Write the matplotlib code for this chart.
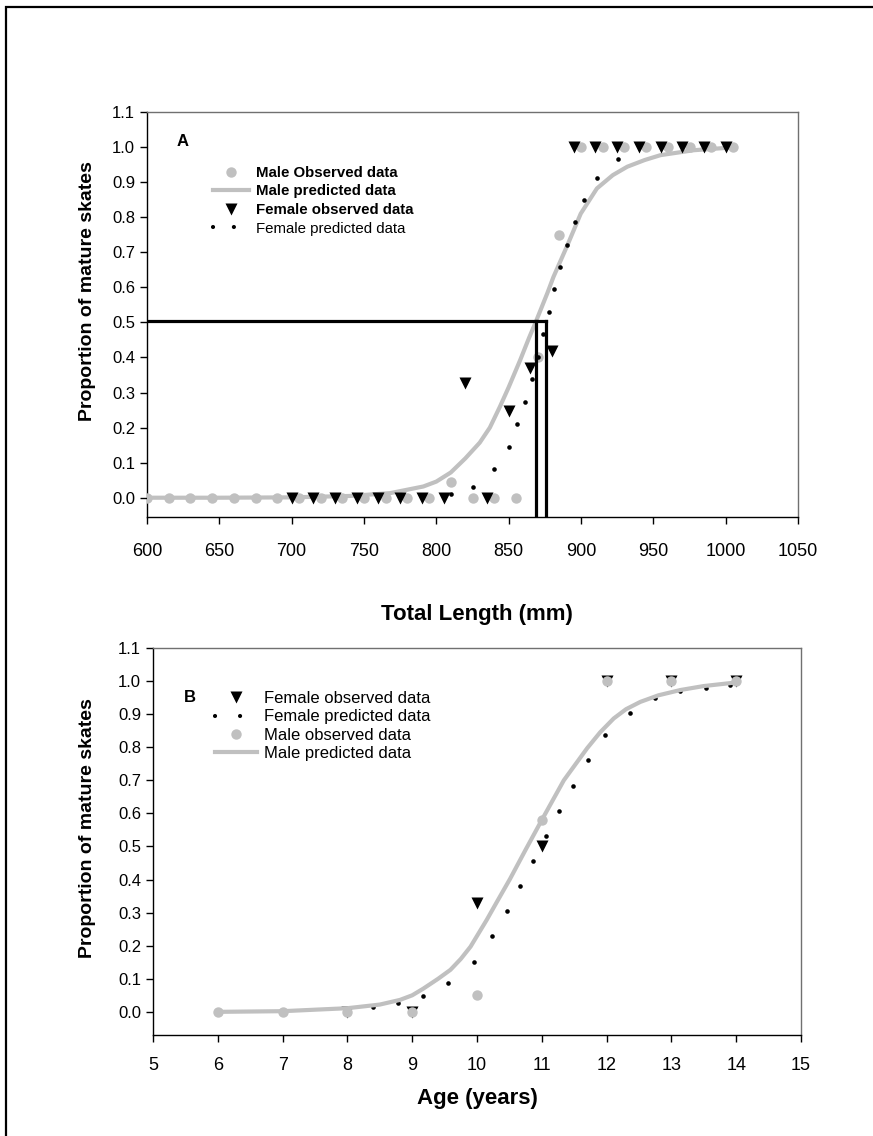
import numpy as np
import matplotlib
matplotlib.use('Agg')
import matplotlib.pyplot as plt
from matplotlib.lines import Line2D
from matplotlib.patches import Rectangle

plt.rcParams['font.family'] = ['Liberation Sans', 'DejaVu Sans']

GRAY = '#c0c0c0'

# --------------------- PANEL A: total length (mm)
a_male_obs_x = [600, 615, 630, 645, 660, 675, 690, 705, 720, 735, 750, 765, 780, 795,
                810, 825, 840, 855, 870, 885, 900, 915, 930, 945, 960, 975, 990, 1005]
a_male_obs_y = [0, 0, 0, 0, 0, 0, 0, 0, 0, 0, 0, 0, 0, 0,
                0.045, 0, 0, 0, 0.40, 0.75, 1, 1, 1, 1, 1, 1, 1, 1]

a_male_pred_x = [600, 650, 700, 740, 768, 791, 800, 810, 820, 830, 837, 844, 850, 858,
                 864, 868.6, 876.7, 881, 890.6, 899.8, 911, 922, 932, 944, 955, 978, 1005]
a_male_pred_y = [0, 0, 0.001, 0.005, 0.013, 0.032, 0.046, 0.072, 0.112, 0.157, 0.2, 0.26,
                 0.315, 0.393, 0.455, 0.50, 0.583, 0.63, 0.72, 0.81, 0.882, 0.92, 0.944,
                 0.963, 0.977, 0.991, 0.999]

a_fem_obs_x = [700, 715, 730, 745, 760, 775, 790, 805, 820, 835, 850, 865, 880,
               895, 910, 925, 940, 955, 970, 985, 1000]
a_fem_obs_y = [0, 0, 0, 0, 0, 0, 0, 0, 0.326, 0, 0.246, 0.371, 0.417,
               1, 1, 1, 1, 1, 1, 1, 1]

a_fem_pred_x = [810, 825, 840, 850, 856, 861, 866, 870, 874, 877.6, 881.5, 885.7,
                890.3, 895.6, 902.3, 910.9, 925.9]
a_fem_pred_y = [0.011, 0.031, 0.083, 0.146, 0.21, 0.273, 0.338, 0.40, 0.466, 0.529,
                0.594, 0.657, 0.722, 0.785, 0.849, 0.913, 0.966]

a_l50_level = 0.505
a_l50_male = 868.8
a_l50_female = 875.8

# --------------------- PANEL B: age (years)
b_fem_obs_x = [8, 9, 10, 11, 12, 13, 14]
b_fem_obs_y = [0, 0, 0.33, 0.50, 1, 1, 1]

b_fem_pred_x = [8.40, 8.78, 9.17, 9.56, 9.95, 10.23, 10.46, 10.67, 10.87, 11.07, 11.27,
                11.48, 11.71, 11.98, 12.36, 12.75, 13.13, 13.53, 13.91]
b_fem_pred_y = [0.016, 0.026, 0.048, 0.087, 0.152, 0.229, 0.304, 0.381, 0.456, 0.533,
                0.608, 0.684, 0.760, 0.836, 0.905, 0.948, 0.970, 0.980, 0.988]

b_male_obs_x = [6, 7, 8, 9, 10, 11, 12, 13, 14]
b_male_obs_y = [0, 0, 0, 0, 0.05, 0.58, 1, 1, 1]

b_male_pred_x = [6, 7, 8, 8.5, 8.81, 9.0, 9.17, 9.4, 9.59, 9.75, 9.9, 10.15, 10.3, 10.51,
                 10.75, 11.0, 11.34, 11.7, 11.9, 12.11, 12.3, 12.52, 12.8, 13.14, 13.5,
                 13.96, 14]
b_male_pred_y = [0, 0.002, 0.011, 0.022, 0.036, 0.05, 0.07, 0.10, 0.127, 0.16, 0.197,
                 0.278, 0.33, 0.402, 0.49, 0.58, 0.70, 0.797, 0.845, 0.887, 0.915, 0.937,
                 0.957, 0.973, 0.985, 0.995, 0.996]

W, H = 873, 1136
fig = plt.figure(figsize=(W / 100, H / 100), dpi=100)

# frame round the whole figure
fig.add_artist(Rectangle((6 / W, -0.01), 1.0, 1 - 7 / H + 0.01, transform=fig.transFigure,
                         fill=False, ec='black', lw=1.6))


def style_axes(ax, xpad):
    for s in ['left', 'bottom']:
        ax.spines[s].set_color('black')
        ax.spines[s].set_linewidth(1.0)
    for s in ['top', 'right']:
        ax.spines[s].set_color('#707070')
        ax.spines[s].set_linewidth(1.0)
    ax.tick_params(direction='out', length=5, width=1, top=False, right=False)
    ax.tick_params(axis='x', labelsize=13, pad=xpad)
    ax.tick_params(axis='y', labelsize=12)


def fem_pred_handle(gap):
    return Line2D([], [], color='black', lw=3, ls=(0, (0.01, gap)), dash_capstyle='round')


# --------------------- PANEL A
axA = fig.add_axes([147 / W, 1 - 517 / H, 651 / W, 405 / H])
axA.plot(a_male_pred_x, a_male_pred_y, color=GRAY, lw=3, zorder=2)
axA.plot(a_male_obs_x, a_male_obs_y, 'o', color=GRAY, ms=7.5, mec='none', zorder=3)
axA.plot(a_fem_obs_x, a_fem_obs_y, 'v', color='black', ms=8, mec='none', zorder=4)
axA.plot(a_fem_pred_x, a_fem_pred_y, 'o', color='black', ms=3.3, mec='none', zorder=5)
axA.plot([600, a_l50_female], [a_l50_level, a_l50_level], color='black', lw=2.3, zorder=6)
axA.plot([a_l50_male, a_l50_male], [-0.06, a_l50_level], color='black', lw=2.3, zorder=6)
axA.plot([a_l50_female, a_l50_female], [-0.06, a_l50_level], color='black', lw=2.3, zorder=6)

axA.set_xlim(600, 1050)
axA.set_ylim(-0.055, 1.1)
axA.set_xticks(np.arange(600, 1051, 50))
axA.set_yticks(np.arange(0, 1.11, 0.1))
axA.yaxis.set_major_formatter(matplotlib.ticker.FormatStrFormatter('%.1f'))
style_axes(axA, 14)
axA.set_xlabel('Total Length (mm)', fontsize=16, fontweight='bold')
axA.xaxis.set_label_coords(0.507, -0.215)
axA.set_ylabel('Proportion of mature skates', fontsize=14, fontweight='bold')
axA.yaxis.set_label_coords(-0.078, 0.558)
axA.text(0.055, 0.927, 'A', transform=axA.transAxes, fontsize=12, fontweight='bold',
         ha='center', va='center')

handlesA = [Line2D([], [], marker='o', color=GRAY, ls='none', ms=7.5, mec='none'),
            Line2D([], [], color=GRAY, lw=3),
            Line2D([], [], marker='v', color='black', ls='none', ms=8, mec='none'),
            fem_pred_handle(5)]
labelsA = ['Male Observed data', 'Male predicted data', 'Female observed data',
           'Female predicted data']
legA = axA.legend(handlesA, labelsA, loc='upper left', frameon=False, fontsize=10.8,
                  bbox_to_anchor=(213 / W, 1 - 166 / H), bbox_transform=fig.transFigure,
                  borderpad=0, borderaxespad=0, handlelength=2.4, handletextpad=0.5,
                  labelspacing=0.3)
for t in legA.get_texts()[:3]:
    t.set_fontweight('bold')

# --------------------- PANEL B
axB = fig.add_axes([153 / W, 1 - 1035 / H, 648 / W, 387 / H])
axB.plot(b_fem_obs_x, b_fem_obs_y, 'v', color='black', ms=8, mec='none', zorder=2)
axB.plot(b_fem_pred_x, b_fem_pred_y, 'o', color='black', ms=3.3, mec='none', zorder=3)
axB.plot(b_male_obs_x, b_male_obs_y, 'o', color=GRAY, ms=7.5, mec='none', zorder=4)
axB.plot(b_male_pred_x, b_male_pred_y, color=GRAY, lw=3, zorder=5)

axB.set_xlim(5, 15)
axB.set_ylim(-0.07, 1.1)
axB.set_xticks(np.arange(5, 16, 1))
axB.set_yticks(np.arange(0, 1.11, 0.1))
axB.yaxis.set_major_formatter(matplotlib.ticker.FormatStrFormatter('%.1f'))
style_axes(axB, 11)
axB.set_xlabel('Age (years)', fontsize=16, fontweight='bold')
axB.xaxis.set_label_coords(0.50, -0.137)
axB.set_ylabel('Proportion of mature skates', fontsize=14, fontweight='bold')
axB.yaxis.set_label_coords(-0.088, 0.535)
axB.text(0.057, 0.873, 'B', transform=axB.transAxes, fontsize=12, fontweight='bold',
         ha='center', va='center')

handlesB = [Line2D([], [], marker='v', color='black', ls='none', ms=8, mec='none'),
            fem_pred_handle(6),
            Line2D([], [], marker='o', color=GRAY, ls='none', ms=7.5, mec='none'),
            Line2D([], [], color=GRAY, lw=3)]
labelsB = ['Female observed data', 'Female predicted data', 'Male observed data',
           'Male predicted data']
axB.legend(handlesB, labelsB, loc='upper left', frameon=False, fontsize=12,
           bbox_to_anchor=(215 / W, 1 - 691 / H), bbox_transform=fig.transFigure,
           borderpad=0, borderaxespad=0, handlelength=2.5, handletextpad=0.45,
           labelspacing=0.2)

fig.savefig('out.png', dpi=100)
